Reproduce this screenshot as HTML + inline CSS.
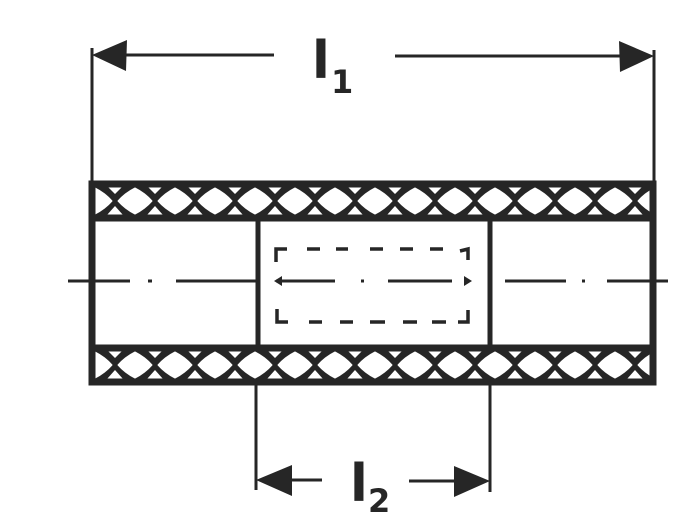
<!DOCTYPE html>
<html><head><style>
html,body{margin:0;padding:0;background:#fff;}
svg{display:block;}
text{font-family:"DejaVu Sans",sans-serif;font-weight:bold;fill:#262626;}
</style></head><body>
<svg width="699" height="525" viewBox="0 0 699 525" xmlns="http://www.w3.org/2000/svg">
<defs>
<pattern id="hatch" x="95" y="187" width="40" height="28" patternUnits="userSpaceOnUse">
<rect width="40" height="28" fill="#262626"/>
<path d="M-17,14 Q-10,6 0,1 Q10,6 17,14 Q10,22 0,27 Q-10,22 -17,14 Z M23,14 Q30,6 40,1 Q50,6 57,14 Q50,22 40,27 Q30,22 23,14 Z" fill="#fff" stroke="#fff" stroke-width="1" stroke-linejoin="round"/>
<path d="M13,0 H27 L20,7 Z M12,28 H28 L20,19 Z" fill="#fff"/>
</pattern>
<pattern id="hatch2" x="95" y="351" width="40" height="28" patternUnits="userSpaceOnUse">
<rect width="40" height="28" fill="#262626"/>
<path d="M-17,14 Q-10,6 0,1 Q10,6 17,14 Q10,22 0,27 Q-10,22 -17,14 Z M23,14 Q30,6 40,1 Q50,6 57,14 Q50,22 40,27 Q30,22 23,14 Z" fill="#fff" stroke="#fff" stroke-width="1" stroke-linejoin="round"/>
<path d="M13,0 H27 L20,7 Z M12,28 H28 L20,19 Z" fill="#fff"/>
</pattern>
</defs>
<g stroke="#262626" fill="none">
<line x1="92" y1="48" x2="92" y2="182" stroke-width="3"/>
<line x1="654" y1="50" x2="654" y2="182" stroke-width="3"/>
<line x1="110" y1="55" x2="274" y2="55" stroke-width="3"/>
<line x1="395" y1="56" x2="625" y2="56" stroke-width="3"/>
<rect x="95" y="187" width="555" height="28" fill="url(#hatch)" stroke="none"/>
<rect x="95" y="351" width="555" height="28" fill="url(#hatch2)" stroke="none"/>
<rect x="92" y="184" width="561" height="198" stroke-width="7"/>
<line x1="92" y1="218" x2="654" y2="218" stroke-width="7"/>
<line x1="92" y1="348" x2="654" y2="348" stroke-width="7"/>
<line x1="258" y1="218" x2="258" y2="348" stroke-width="5"/>
<line x1="490" y1="218" x2="490" y2="348" stroke-width="5"/>
<g stroke-width="3">
<line x1="68" y1="281" x2="130" y2="281"/>
<line x1="148" y1="281" x2="152" y2="281"/>
<line x1="176" y1="281" x2="258" y2="281"/>
<line x1="276" y1="281" x2="335" y2="281"/>
<line x1="361" y1="281" x2="364" y2="281"/>
<line x1="388" y1="281" x2="452" y2="281"/>
<line x1="505" y1="281" x2="566" y2="281"/>
<line x1="582" y1="281" x2="585" y2="281"/>
<line x1="607" y1="281" x2="668" y2="281"/>
</g>
<g stroke-width="3.5">
<path d="M276,262 L276,249 L287,249 M277,309 L277,322 L288,322 M468,260 L468,249 L460,251 M468,310 L468,322 L458,322"/>
<path d="M307,249 H320 M336,249 H348 M370,249 H383 M400,249 H413 M430,249 H443" />
<path d="M309,322 H322 M340,322 H353 M370,322 H385 M403,322 H417 M432,322 H446"/>
</g>
<line x1="256" y1="385" x2="256" y2="490" stroke-width="3"/>
<line x1="490" y1="385" x2="490" y2="492" stroke-width="3"/>
<line x1="290" y1="480" x2="322" y2="480" stroke-width="3"/>
<line x1="409" y1="481" x2="455" y2="481" stroke-width="3"/>
</g>
<g fill="#262626">
<polygon points="92,55 127,40 126,71"/>
<polygon points="654,56 619,41 620,72"/>
<polygon points="256,480 292,465 292,496"/>
<polygon points="490,481 454,466 454,497"/>
<path d="M274,281 l8,-5 l0,10 z M472,281 l-8,-5 l0,10z"/>
</g>
<text x="312" y="78" font-size="52">l</text>
<text x="331" y="93" font-size="32">1</text>
<text x="350" y="501" font-size="52">l</text>
<text x="368" y="512" font-size="32">2</text>
</svg>
</body></html>
